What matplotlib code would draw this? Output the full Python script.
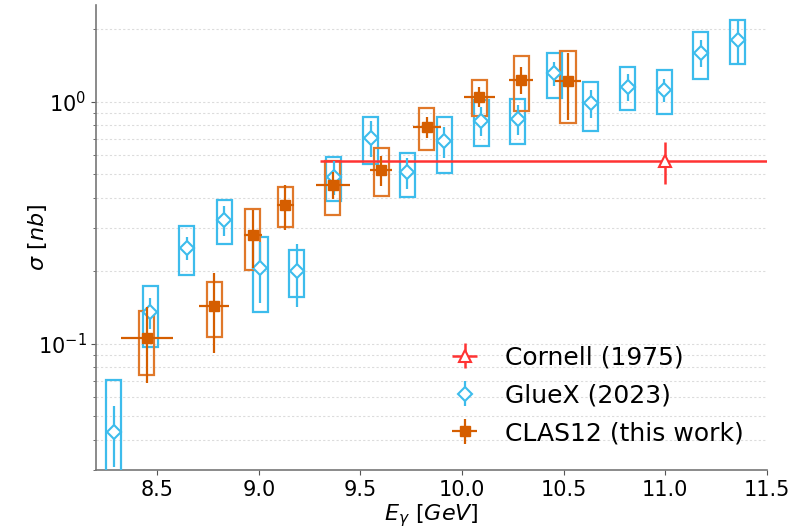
import numpy as np
import matplotlib
matplotlib.use("Agg")
import matplotlib.pyplot as plt
from matplotlib.patches import Rectangle

# Cornell (1975)
cornell_E = [11.0]
cornell_sig = [0.567]
cornell_stat = [0.112]
cornell_Eerr = [1.70]

# GlueX (2023)
gluex_E = [8.285, 8.465, 8.645, 8.829, 9.007, 9.188, 9.369, 9.550, 9.731,
           9.912, 10.094, 10.274, 10.454, 10.633, 10.815, 10.995, 11.175, 11.358]
gluex_sig = [0.043, 0.135, 0.249, 0.325, 0.205, 0.200, 0.490, 0.708, 0.510,
             0.685, 0.834, 0.848, 1.314, 0.984, 1.153, 1.118, 1.589, 1.799]
gluex_stat = [0.012, 0.020, 0.028, 0.046, 0.058, 0.058, 0.080, 0.120, 0.075,
              0.100, 0.115, 0.118, 0.150, 0.130, 0.145, 0.125, 0.200, 0.360]
gluex_sys = [0.028, 0.038, 0.057, 0.068, 0.070, 0.044, 0.100, 0.155, 0.105,
             0.180, 0.178, 0.180, 0.280, 0.225, 0.234, 0.227, 0.350, 0.365]

# CLAS12 (this work)
clas_E = [8.449, 8.781, 8.971, 9.131, 9.364, 9.603, 9.827, 10.085, 10.291, 10.522]
clas_Eerr = [0.129, 0.074, 0.045, 0.041, 0.084, 0.055, 0.070, 0.076, 0.060, 0.064]
clas_sig = [0.105, 0.1435, 0.281, 0.374, 0.454, 0.524, 0.788, 1.049, 1.233, 1.213]
clas_stat = [0.036, 0.052, 0.075, 0.080, 0.057, 0.074, 0.078, 0.103, 0.160, 0.370]
clas_sys = [0.031, 0.037, 0.080, 0.070, 0.113, 0.117, 0.157, 0.181, 0.315, 0.400]

c_red = "#ff3333"
c_blue = "#3dbcec"
c_orange = "#d55e00"
c_obox = "#e0782a"

box_hw = 0.037

fig = plt.figure(figsize=(8.02, 5.30), dpi=100)
ax = fig.add_axes([0.12, 0.113, 0.836, 0.877])

def sys_boxes(ax, E, sig, sys, color):
    for e, s, d in zip(E, sig, sys):
        ax.add_patch(Rectangle((e - box_hw, s - d), 2 * box_hw, 2 * d,
                               fill=False, edgecolor=color, lw=1.6, zorder=3))

ax.errorbar(cornell_E, cornell_sig, yerr=cornell_stat, xerr=cornell_Eerr,
            fmt="^", color=c_red, mfc="white", mec=c_red, ms=8, mew=1.5,
            elinewidth=1.8, label="Cornell (1975)", zorder=4)

sys_boxes(ax, gluex_E, gluex_sig, gluex_sys, c_blue)
ax.errorbar(gluex_E, gluex_sig, yerr=gluex_stat, fmt="D", color=c_blue,
            mfc="white", mec=c_blue, ms=7, mew=1.5, elinewidth=1.6,
            label="GlueX (2023)", zorder=4)

sys_boxes(ax, clas_E, clas_sig, clas_sys, c_obox)
ax.errorbar(clas_E, clas_sig, yerr=clas_stat, xerr=clas_Eerr, fmt="s",
            color=c_orange, ms=7, elinewidth=1.6,
            label="CLAS12 (this work)", zorder=5)

ax.set_yscale("log")
ax.set_xlim(8.2, 11.5)
ax.set_ylim(0.03, 2.5)

ax.grid(True, which="both", axis="y", color="#dcdcdc", ls="--", lw=0.8, dashes=(2, 2))
ax.set_axisbelow(True)

for s in ["top", "right"]:
    ax.spines[s].set_visible(False)
for s in ["left", "bottom"]:
    ax.spines[s].set_color("#777777")
    ax.spines[s].set_linewidth(1.2)

ax.tick_params(axis="both", which="major", labelsize=15, color="#555555")
ax.tick_params(axis="y", which="minor", color="#555555")
ax.set_xticks([8.5, 9.0, 9.5, 10.0, 10.5, 11.0, 11.5])

ax.set_xlabel(r"$E_\gamma\ [GeV]$", fontsize=16, labelpad=2)
ax.set_ylabel(r"$\sigma\ [nb]$", fontsize=16)
ax.yaxis.set_label_coords(-0.07, 0.5)

ax.legend(loc="lower right", fontsize=18, frameon=False, handlelength=1.6,
          borderaxespad=0.6, labelspacing=0.55, bbox_to_anchor=(1.003, 0.0))

fig.savefig("out.png", dpi=100)
